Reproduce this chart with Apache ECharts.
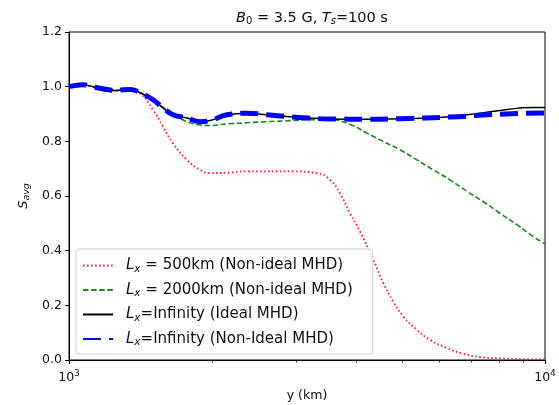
<!DOCTYPE html>
<html><head><meta charset="utf-8">
<script src="https://cdn.jsdelivr.net/npm/echarts@6/dist/echarts.min.js"></script>
<style>html,body{margin:0;padding:0;background:#fff}#c{width:559px;height:405px}</style>
</head><body><div id="c"></div>
<script>
// ---- data ----
const xRed = [1000,1040,1070,1110,1160,1219,1261,1300,1343,1410,1502,1576,1654,1770,1884,1978,2147,2365,2955,3319,3535,3710,3894,4088,4358,4575,4800,5040,5377,5733,6216,6737,7302,8043,9154,10000];
const yRed = [1.000,1.005,1.007,1.002,0.994,0.988,0.986,0.989,0.990,0.976,0.915,0.854,0.793,0.732,0.696,0.684,0.685,0.690,0.690,0.684,0.659,0.610,0.537,0.470,0.367,0.281,0.214,0.159,0.111,0.074,0.044,0.023,0.011,0.006,0.003,0.002];

const xGreen = [1000,1040,1070,1110,1160,1219,1261,1300,1343,1410,1502,1576,1654,1770,1884,1978,2147,2365,2606,2955,3178,3535,3894,4227,4566,4960,5384,5817,6316,6858,7408,8043,8733,9436,10000];
const yGreen = [1.000,1.005,1.007,1.002,0.994,0.988,0.986,0.989,0.990,0.978,0.952,0.925,0.900,0.872,0.860,0.858,0.864,0.868,0.872,0.876,0.879,0.879,0.862,0.830,0.800,0.769,0.732,0.696,0.659,0.617,0.580,0.537,0.495,0.452,0.425];

const xIdeal = [1000,1040,1070,1110,1160,1219,1261,1300,1343,1410,1502,1576,1654,1720,1770,1884,1978,2147,2365,2606,2955,3178,3535,4227,5000,5817,6858,8043,9436,10000];
const yIdeal = [1.000,1.005,1.007,1.002,0.994,0.988,0.986,0.989,0.990,0.978,0.952,0.922,0.897,0.890,0.885,0.872,0.876,0.897,0.903,0.897,0.889,0.885,0.882,0.881,0.883,0.886,0.897,0.913,0.924,0.924];

const xNonIdeal = [1000,1040,1070,1110,1160,1219,1261,1300,1343,1410,1502,1576,1654,1720,1770,1884,1978,2147,2365,2606,2955,3178,3535,4227,5000,6316,7408,8733,10000];
const yNonIdeal = [1.000,1.005,1.007,1.002,0.994,0.988,0.986,0.989,0.990,0.978,0.952,0.922,0.897,0.890,0.885,0.872,0.876,0.897,0.903,0.897,0.889,0.885,0.882,0.881,0.883,0.889,0.896,0.902,0.904];

const seriesNames = ['L500', 'L2000', 'LinfIdeal', 'LinfNonIdeal'];
const legendLabels = {
  L500: '{i|L}{s|x} = 500km (Non-ideal MHD)',
  L2000: '{i|L}{s|x} = 2000km (Non-ideal MHD)',
  LinfIdeal: '{i|L}{s|x}=Infinity (Ideal MHD)',
  LinfNonIdeal: '{i|L}{s|x}=Infinity (Non-Ideal MHD)'
};
const yTicks = [0, 0.2, 0.4, 0.6, 0.8, 1.0, 1.2];
const xMinorTicks = [2000,3000,4000,5000,6000,7000,8000,9000];
const titleText = '{i|B}{s|0} = 3.5 G, {i|T}{si|s}=100 s';
const xName = 'y (km)';
const yName = '{i|S}{si|avg}';

function pts(xs, ys) { return xs.map((x, i) => [x, ys[i]]); }

const FONT = 'DejaVu Sans';
const chart = echarts.init(document.getElementById('c'), null, {renderer: 'canvas'});

const option = {
  animation: false,
  backgroundColor: '#fff',
  title: {
    text: titleText,
    left: 307, top: 5, textAlign: 'center',
    textStyle: {
      fontFamily: FONT, fontSize: 14.5, fontWeight: 'normal', color: '#111',
      rich: {
        i: {fontFamily: FONT, fontStyle: 'italic', fontSize: 14.5, color: '#111'},
        s: {fontFamily: FONT, fontSize: 10, padding: [6, 0, 0, 0], color: '#111'},
        si: {fontFamily: FONT, fontStyle: 'italic', fontSize: 10, padding: [6, 0, 0, 0], color: '#111'}
      }
    }
  },
  grid: {
    left: 69, right: 14, top: 32, bottom: 45,
    outerBoundsMode: 'none', containLabel: false,
    show: true, borderColor: '#000', borderWidth: 1, backgroundColor: 'transparent'
  },
  legend: {
    orient: 'vertical',
    left: 76, top: 249,
    padding: [9, 20, 6, 6],
    itemWidth: 30, itemHeight: 14, itemGap: 8,
    backgroundColor: 'rgba(255,255,255,0.85)',
    borderColor: '#cccccc', borderWidth: 1, borderRadius: 3,
    itemStyle: {opacity: 0},
    data: seriesNames,
    formatter: name => legendLabels[name],
    textStyle: {
      fontFamily: FONT, fontSize: 15, color: '#111', padding: [0, 0, 0, 8],
      rich: {
        i: {fontFamily: FONT, fontStyle: 'italic', fontSize: 15, color: '#111'},
        s: {fontFamily: FONT, fontStyle: 'italic', fontSize: 10.5, padding: [7, 0, 0, 0], color: '#111'}
      }
    }
  },
  xAxis: {
    type: 'log', logBase: 10, min: 1000, max: 10000,
    name: xName, nameLocation: 'middle', nameGap: 23,
    nameTextStyle: {fontFamily: FONT, fontSize: 12.5, color: '#111'},
    axisLine: {show: true, onZero: false, lineStyle: {color: '#000', width: 1}},
    axisTick: {show: true, inside: false, length: 4, lineStyle: {color: '#000', width: 1}},
    splitLine: {show: false},
    axisLabel: {
      margin: 9,
      formatter: v => '{b|10}{sup|' + Math.round(Math.log10(v)) + '}',
      rich: {
        b: {fontFamily: FONT, fontSize: 12.5, color: '#111'},
        sup: {fontFamily: FONT, fontSize: 9, padding: [0, 0, 8, 0], color: '#111'}
      }
    }
  },
  yAxis: {
    type: 'value', min: 0, max: 1.2, interval: 0.2,
    name: yName, nameLocation: 'middle', nameGap: 34, nameRotate: 90,
    nameTextStyle: {
      fontFamily: FONT, fontSize: 13, color: '#111',
      rich: {
        i: {fontFamily: FONT, fontStyle: 'italic', fontSize: 13, color: '#111'},
        si: {fontFamily: FONT, fontStyle: 'italic', fontSize: 9.5, padding: [6, 0, 0, 0], color: '#111'}
      }
    },
    axisLine: {show: true, lineStyle: {color: '#000', width: 1}},
    axisTick: {show: true, inside: false, length: 4, lineStyle: {color: '#000', width: 1}},
    splitLine: {show: false},
    axisLabel: {
      margin: 7, fontFamily: FONT, fontSize: 12.5, color: '#111',
      formatter: v => v.toFixed(1)
    }
  },
  series: [
    {
      name: 'L500', type: 'line', data: pts(xRed, yRed),
      symbol: 'none', smooth: 0.5,
      lineStyle: {color: '#ff1a2e', width: 1.8, type: [1.6, 2.4], cap: 'butt'},
      itemStyle: {color: '#ff1a2e'}, z: 2
    },
    {
      name: 'L2000', type: 'line', data: pts(xGreen, yGreen),
      symbol: 'none', smooth: 0.5,
      lineStyle: {color: '#1a8a1a', width: 1.6, type: [5.5, 2.6]},
      itemStyle: {color: '#1a8a1a'}, z: 3
    },
    {
      name: 'LinfIdeal', type: 'line', data: pts(xIdeal, yIdeal),
      symbol: 'none', smooth: 0.5,
      lineStyle: {color: '#000', width: 1.5},
      itemStyle: {color: '#000'}, z: 4
    },
    {
      name: 'LinfNonIdeal', type: 'line', data: pts(xNonIdeal, yNonIdeal),
      symbol: 'none', smooth: 0.5,
      lineStyle: {color: '#0000ff', width: 5, type: [18, 8]},
      itemStyle: {color: '#0000ff'}, z: 5
    }
  ]
};
chart.setOption(option);

// minor ticks on the log x axis, positioned through the axis scale
const y0 = chart.convertToPixel({yAxisIndex: 0}, 0);
const minor = xMinorTicks.map(v => {
  const px = Math.round(chart.convertToPixel({xAxisIndex: 0}, v)) + 0.5;
  return {
    type: 'line', silent: true, z: 10,
    shape: {x1: px, y1: y0, x2: px, y2: y0 + 2.5},
    style: {stroke: '#000', lineWidth: 0.8}
  };
});
chart.setOption({graphic: minor});
</script></body></html>
